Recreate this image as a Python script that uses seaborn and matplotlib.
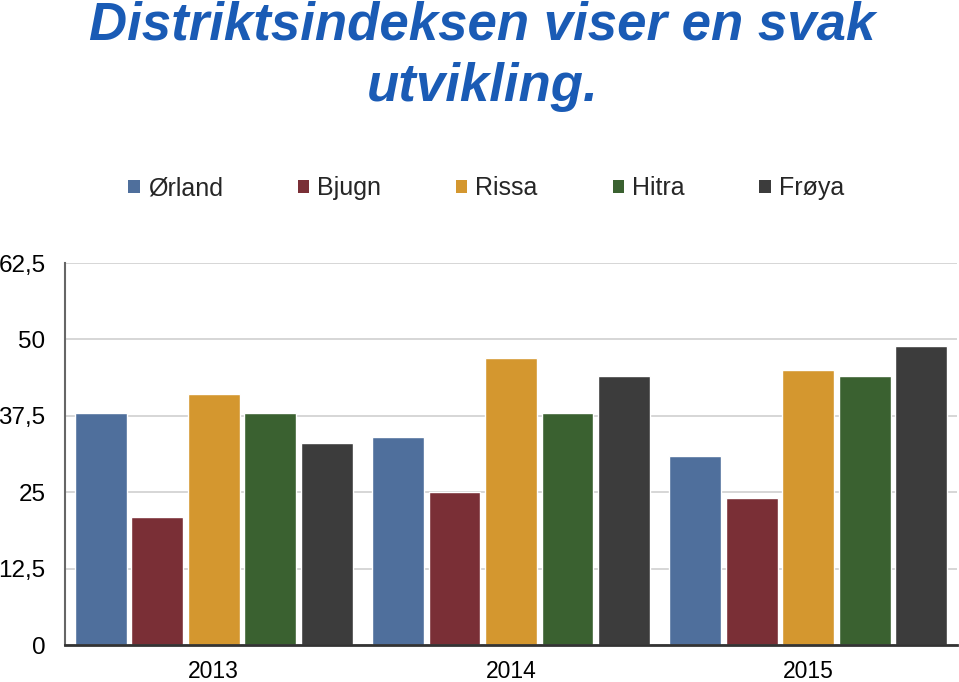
import matplotlib
matplotlib.use("Agg")
import matplotlib.pyplot as plt
import seaborn as sns
import pandas as pd
from matplotlib.patches import Patch
from matplotlib.ticker import FuncFormatter

years = ["2013", "2014", "2015"]
districts = ["Ørland", "Bjugn", "Rissa", "Hitra", "Frøya"]
orland = [38, 34, 31]
bjugn = [21, 25, 24]
rissa = [41, 47, 45]
hitra = [38, 38, 44]
froya = [33, 44, 49]
y_ticks = [0, 12.5, 25, 37.5, 50, 62.5]
colors = ["#4f6f9c", "#7a2f36", "#d4972f", "#3a6130", "#3c3c3c"]

series = [orland, bjugn, rissa, hitra, froya]
rows = []
for d, vals in zip(districts, series):
    for y, v in zip(years, vals):
        rows.append({"År": y, "Distrikt": d, "Indeks": v})
df = pd.DataFrame(rows)

sns.set_theme(style="white")
plt.rcParams["font.family"] = ["Liberation Sans", "DejaVu Sans"]

fig = plt.figure(figsize=(9.59, 6.82), dpi=100)
ax = fig.add_axes([65 / 959, 37 / 682, 892 / 959, 382 / 682])

sns.barplot(data=df, x="År", y="Indeks", hue="Distrikt", order=years,
            hue_order=districts, palette=colors, width=0.95, gap=0.08,
            saturation=1, ax=ax, legend=False, errorbar=None)

ax.set_ylim(0, 62.5)
ax.set_xlim(-0.5, 2.5)
ax.set_yticks(y_ticks)
ax.yaxis.set_major_formatter(FuncFormatter(lambda v, p: (f"{v:g}").replace(".", ",")))
ax.yaxis.grid(True, color="#d0d0d0", linewidth=1.2)
ax.set_axisbelow(True)
ax.set_xlabel("")
ax.set_ylabel("")
for s in ["top", "right"]:
    ax.spines[s].set_visible(False)
ax.spines["left"].set_color("#666666")
ax.spines["left"].set_linewidth(1.5)
ax.spines["bottom"].set_color("#333333")
ax.spines["bottom"].set_linewidth(2)
ax.tick_params(axis="y", labelsize=17.5, pad=14, length=0, colors="black")
ax.tick_params(axis="x", labelsize=16.5, pad=11, length=0, colors="black")

fig.text(0.503, 0.962, "Distriktsindeksen viser en svak", ha="center", va="center",
         fontsize=38, fontweight="bold", fontstyle="italic", color="#1a5bb5")
fig.text(0.503, 0.873, "utvikling.", ha="center", va="center",
         fontsize=38, fontweight="bold", fontstyle="italic", color="#1a5bb5")

handles = [Patch(facecolor=c, edgecolor="none") for c in colors]
fig.legend(handles, districts, loc="center", bbox_to_anchor=(0.507, 0.724), ncol=5,
           frameon=False, fontsize=18, handlelength=0.45, handleheight=0.45,
           handletextpad=0.32, columnspacing=3.0)

fig.savefig("out.png", dpi=100)
